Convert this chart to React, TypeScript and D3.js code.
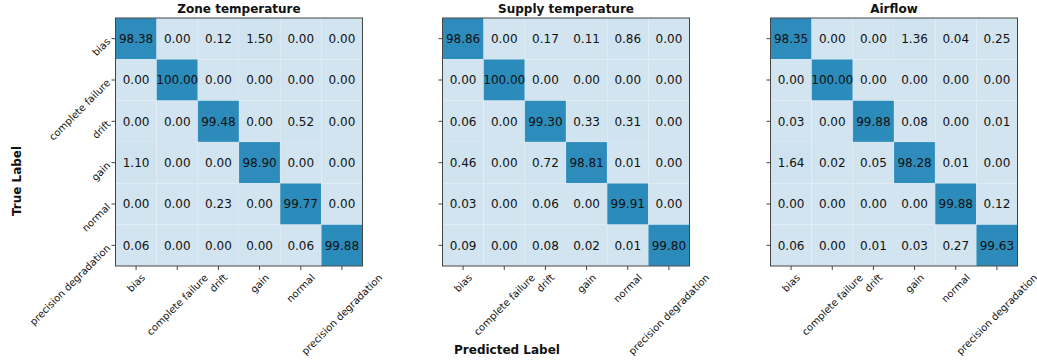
import React from "react";
import * as d3 from "d3";

const classes = ["bias", "complete failure", "drift", "gain", "normal", "precision degradation"];

const titles = ["Zone temperature", "Supply temperature", "Airflow"];

const zoneValues = [
  [98.38, 0.0, 0.12, 1.5, 0.0, 0.0],
  [0.0, 100.0, 0.0, 0.0, 0.0, 0.0],
  [0.0, 0.0, 99.48, 0.0, 0.52, 0.0],
  [1.1, 0.0, 0.0, 98.9, 0.0, 0.0],
  [0.0, 0.0, 0.23, 0.0, 99.77, 0.0],
  [0.06, 0.0, 0.0, 0.0, 0.06, 99.88],
];

const supplyValues = [
  [98.86, 0.0, 0.17, 0.11, 0.86, 0.0],
  [0.0, 100.0, 0.0, 0.0, 0.0, 0.0],
  [0.06, 0.0, 99.3, 0.33, 0.31, 0.0],
  [0.46, 0.0, 0.72, 98.81, 0.01, 0.0],
  [0.03, 0.0, 0.06, 0.0, 99.91, 0.0],
  [0.09, 0.0, 0.08, 0.02, 0.01, 99.8],
];

const airflowValues = [
  [98.35, 0.0, 0.0, 1.36, 0.04, 0.25],
  [0.0, 100.0, 0.0, 0.0, 0.0, 0.0],
  [0.03, 0.0, 99.88, 0.08, 0.0, 0.01],
  [1.64, 0.02, 0.05, 98.28, 0.01, 0.0],
  [0.0, 0.0, 0.0, 0.0, 99.88, 0.12],
  [0.06, 0.0, 0.01, 0.03, 0.27, 99.63],
];

const matrices = [zoneValues, supplyValues, airflowValues];

const W = 1037;
const H = 362;
const panelLefts = [115.5, 442.5, 770.5];
const panelW = 247;
const panelTop = 18;
const panelH = 248;
const font = "DejaVu Sans, sans-serif";

const App = () => {
  const svgRef = React.useRef<SVGSVGElement>(null);

  React.useEffect(() => {
    const svgEl = d3.select(svgRef.current);
    svgEl.selectAll("*").remove();

    const color = d3
      .scaleLinear<string>()
      .domain([0, 100])
      .range(["#d1e4f0", "#2b8bbb"])
      .interpolate(d3.interpolateRgb);

    matrices.forEach((m, pi) => {
      const g = svgEl
        .append("g")
        .attr("transform", `translate(${panelLefts[pi]},${panelTop})`);

      const x = d3.scaleBand().domain(classes).range([0, panelW]);
      const y = d3.scaleBand().domain(classes).range([0, panelH]);

      const cells = m.flatMap((row, ri) =>
        row.map((v, ci) => ({ r: classes[ri], c: classes[ci], v }))
      );

      g.selectAll(".cell")
        .data(cells)
        .enter()
        .append("rect")
        .attr("x", (d) => x(d.c)!)
        .attr("y", (d) => y(d.r)!)
        .attr("width", x.bandwidth())
        .attr("height", y.bandwidth())
        .attr("fill", (d) => color(d.v))
        .attr("stroke", "rgba(255,255,255,0.18)")
        .attr("stroke-width", 0.8);

      g.selectAll(".val")
        .data(cells)
        .enter()
        .append("text")
        .attr("x", (d) => x(d.c)! + x.bandwidth() / 2)
        .attr("y", (d) => y(d.r)! + y.bandwidth() / 2)
        .attr("dy", "0.35em")
        .attr("text-anchor", "middle")
        .attr("font-family", font)
        .attr("font-size", 12)
        .attr("fill", "#111")
        .text((d) => d.v.toFixed(2));

      // frame
      g.append("rect")
        .attr("width", panelW)
        .attr("height", panelH)
        .attr("fill", "none")
        .attr("stroke", "#444")
        .attr("stroke-width", 1);

      // x ticks: rotated labels centred under the tick (bbox centre)
      const xAxis = g.append("g").attr("transform", `translate(0,${panelH})`);
      classes.forEach((c) => {
        const cx = x(c)! + x.bandwidth() / 2;
        xAxis
          .append("line")
          .attr("x1", cx)
          .attr("x2", cx)
          .attr("y1", 0)
          .attr("y2", 4)
          .attr("stroke", "#444");
        const t = xAxis
          .append("text")
          .attr("text-anchor", "middle")
          .attr("dy", "0.35em")
          .attr("font-family", font)
          .attr("font-size", 10)
          .attr("fill", "#111")
          .text(c);
        const len = (t.node() as SVGTextElement).getComputedTextLength();
        const half = ((len + 8) * Math.SQRT1_2) / 2;
        t.attr("transform", `translate(${cx},${7 + half}) rotate(-45)`);
      });

      // y ticks
      classes.forEach((c) => {
        const cy = y(c)! + y.bandwidth() / 2;
        g.append("line")
          .attr("x1", -4)
          .attr("x2", 0)
          .attr("y1", cy)
          .attr("y2", cy)
          .attr("stroke", "#444");
        if (pi === 0) {
          g.append("text")
            .attr("transform", `translate(${-7},${cy + 1}) rotate(-45)`)
            .attr("text-anchor", "end")
            .attr("dy", "0.35em")
            .attr("font-family", font)
            .attr("font-size", 10)
            .attr("fill", "#111")
            .text(c);
        }
      });

      g.append("text")
        .attr("x", panelW / 2)
        .attr("y", -5)
        .attr("text-anchor", "middle")
        .attr("font-family", font)
        .attr("font-size", 12)
        .attr("font-weight", "bold")
        .attr("fill", "#111")
        .text(titles[pi]);
    });

    svgEl
      .append("text")
      .attr("transform", `translate(21,181) rotate(-90)`)
      .attr("text-anchor", "middle")
      .attr("font-family", font)
      .attr("font-size", 12)
      .attr("font-weight", "bold")
      .attr("fill", "#111")
      .text("True Label");

    svgEl
      .append("text")
      .attr("x", 507)
      .attr("y", 354)
      .attr("text-anchor", "middle")
      .attr("font-family", font)
      .attr("font-size", 12)
      .attr("font-weight", "bold")
      .attr("fill", "#111")
      .text("Predicted Label");
  }, []);

  return (
    <svg
      ref={svgRef}
      width={W}
      height={H}
      style={{ position: "absolute", left: 0, top: 0, background: "#fff" }}
    />
  );
};

export default App;
